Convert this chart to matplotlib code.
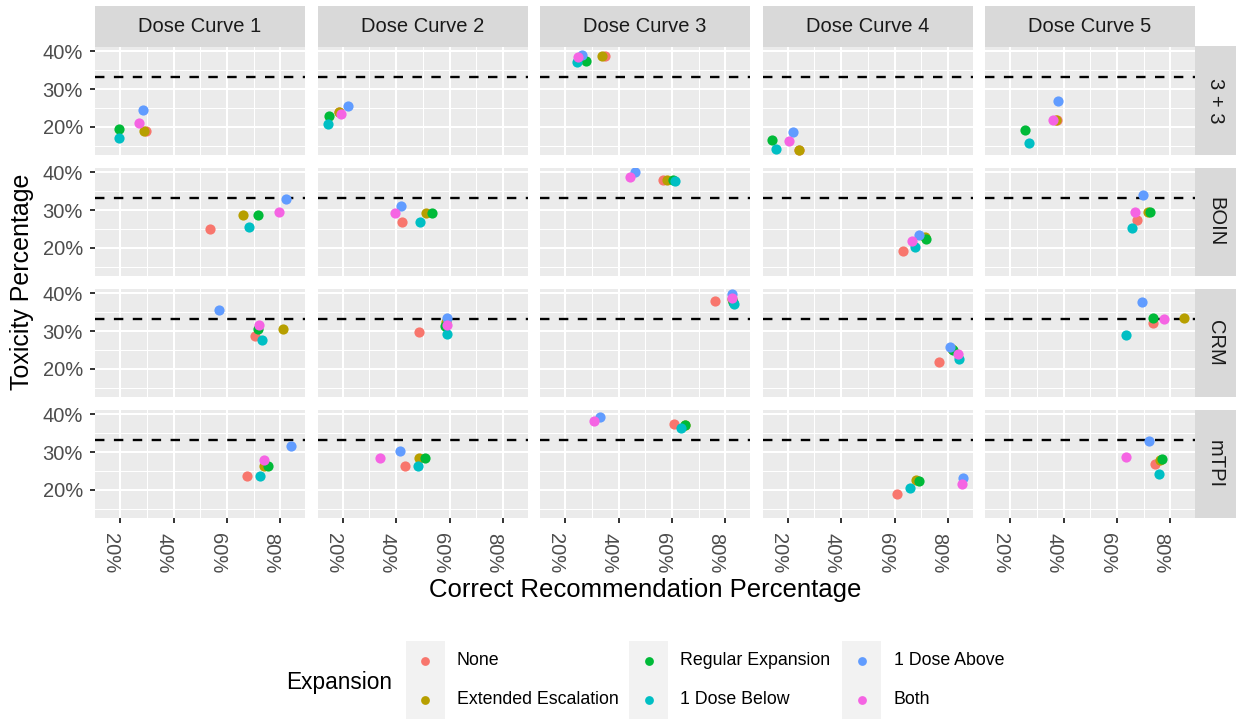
import matplotlib
matplotlib.use('Agg')
import matplotlib.pyplot as plt
from matplotlib.ticker import PercentFormatter, MultipleLocator
from matplotlib.patches import Rectangle

plt.rcParams['font.family'] = ['Liberation Sans', 'DejaVu Sans']

expansions = ['None', 'Extended Escalation', 'Regular Expansion',
              '1 Dose Below', '1 Dose Above', 'Both']
colors = ['#F8766D', '#B79F00', '#00BA38', '#00BFC4', '#619CFF', '#F564E3']
curves = ['Dose Curve 1', 'Dose Curve 2', 'Dose Curve 3', 'Dose Curve 4', 'Dose Curve 5']
designs = ['3 + 3', 'BOIN', 'CRM', 'mTPI']
target_tox = 100 / 3

# one row per dose curve, values in the order of `expansions`
correct_33 = [[29.8, 29.1, 19.6, 19.5, 28.6, 27.2],
              [18.8, 18.5, 14.9, 14.5, 22.1, 19.5],
              [34.8, 33.7, 27.9, 24.3, 26.5, 24.7],
              [24.1, 24.1, 14.2, 15.7, 22.1, 20.7],
              [37.5, 37.3, 25.5, 26.9, 38.1, 36.0]]
tox_33 = [[18.9, 18.9, 19.3, 16.9, 24.4, 20.9],
          [23.9, 23.9, 22.9, 20.7, 25.6, 23.4],
          [38.8, 38.8, 37.5, 37.1, 39.0, 38.4],
          [13.8, 13.8, 16.6, 14.2, 18.5, 16.3],
          [21.9, 21.9, 19.1, 15.8, 26.9, 21.9]]

correct_boin = [[53.8, 65.8, 71.6, 68.1, 82.2, 79.6],
                [42.1, 51.1, 53.4, 49.0, 42.0, 39.5],
                [56.8, 58.1, 60.5, 61.0, 46.2, 44.2],
                [63.2, 71.3, 71.7, 67.8, 69.1, 66.7],
                [67.4, 71.5, 72.5, 65.6, 69.7, 66.7]]
tox_boin = [[24.9, 28.6, 28.8, 25.5, 33.0, 29.4],
            [26.9, 29.1, 29.1, 26.9, 31.1, 29.1],
            [37.9, 37.9, 37.9, 37.6, 40.0, 38.9],
            [19.2, 22.9, 22.4, 20.3, 23.3, 21.7],
            [27.4, 29.6, 29.6, 25.3, 33.9, 29.6]]

correct_crm = [[70.6, 81.1, 71.6, 73.0, 56.9, 72.1],
               [48.6, 58.8, 58.3, 59.0, 59.2, 59.2],
               [76.2, 82.6, 82.9, 83.3, 82.4, 82.4],
               [76.7, 81.6, 81.8, 84.3, 80.6, 83.8],
               [73.5, 85.1, 73.5, 63.5, 69.3, 77.4]]
tox_crm = [[28.8, 30.5, 30.5, 27.5, 35.6, 31.7],
           [29.8, 32.4, 31.4, 29.2, 33.4, 31.5],
           [38.0, 38.5, 37.6, 37.2, 39.8, 38.9],
           [21.8, 25.2, 25.1, 22.7, 25.7, 24.0],
           [32.2, 33.4, 33.6, 28.9, 37.8, 33.3]]

correct_mtpi = [[67.6, 73.7, 75.3, 72.2, 83.8, 73.9],
                [43.4, 48.6, 50.7, 48.2, 41.3, 34.0],
                [60.7, 64.8, 64.9, 63.2, 32.9, 30.9],
                [61.0, 68.0, 69.0, 65.8, 85.6, 85.3],
                [74.1, 76.2, 76.8, 75.8, 71.8, 63.2]]
tox_mtpi = [[23.6, 26.3, 26.4, 23.6, 31.5, 27.8],
            [26.2, 28.4, 28.4, 26.3, 30.2, 28.3],
            [37.5, 37.1, 37.1, 36.5, 39.4, 38.3],
            [18.9, 22.6, 22.3, 20.4, 23.1, 21.5],
            [26.9, 28.0, 28.2, 24.1, 32.9, 28.6]]

correct = [correct_33, correct_boin, correct_crm, correct_mtpi]
tox = [tox_33, tox_boin, tox_crm, tox_mtpi]

# shared scales with ggplot-like 5% expansion
all_x = [v for d in correct for row in d for v in row]
all_y = [v for d in tox for row in d for v in row]
dx = (max(all_x) - min(all_x)) * 0.05
dy = (max(all_y) - min(all_y)) * 0.05
xlim = (min(all_x) - dx, max(all_x) + dx)
ylim = (min(all_y) - dy, max(all_y) + dy)

W, H = 1236, 719
fig = plt.figure(figsize=(W / 100, H / 100), dpi=100)


def rect(x0, y0, w, h):
    return [x0 / W, 1 - (y0 + h) / H, w / W, h / H]


pan_left, pan_w, col_step = 95, 210, 222.5
pan_top, pan_h, row_step = 46.5, 108.5, 121

for r, design in enumerate(designs):
    for c, curve in enumerate(curves):
        x0 = pan_left + c * col_step
        y0 = pan_top + r * row_step
        ax = fig.add_axes(rect(x0, y0, pan_w, pan_h))
        ax.set_facecolor('#EBEBEB')
        for s in ax.spines.values():
            s.set_visible(False)
        ax.set_xlim(xlim)
        ax.set_ylim(ylim)
        ax.xaxis.set_major_locator(MultipleLocator(20))
        ax.xaxis.set_minor_locator(MultipleLocator(10))
        ax.yaxis.set_major_locator(MultipleLocator(10))
        ax.yaxis.set_minor_locator(MultipleLocator(5))
        ax.xaxis.set_major_formatter(PercentFormatter(decimals=0))
        ax.yaxis.set_major_formatter(PercentFormatter(decimals=0))
        ax.grid(which='major', color='white', lw=1.5)
        ax.grid(which='minor', color='white', lw=0.75)
        ax.set_axisbelow(True)
        ax.tick_params(which='minor', length=0)
        ax.tick_params(which='major', length=3.6, width=1.4, color='#333333',
                       labelcolor='#4D4D4D', labelsize=14.5)
        ax.tick_params(axis='y', pad=5)
        ax.tick_params(axis='x', pad=7)

        ax.axhline(target_tox, color='black', lw=1.7, ls=(0, (4, 4)), zorder=2)
        for k, name in enumerate(expansions):
            ax.scatter(correct[r][c][k], tox[r][c][k], s=54, color=colors[k],
                       linewidths=0, zorder=3)

        if c != 0:
            ax.tick_params(axis='y', length=0, labelleft=False)
        if r != len(designs) - 1:
            ax.tick_params(axis='x', length=0, labelbottom=False)
        else:
            plt.setp(ax.get_xticklabels(), rotation=-90, rotation_mode='anchor',
                     ha='left', va='top')

        # facet strips
        if r == 0:
            sax = fig.add_axes(rect(x0, 5.5, pan_w, 41))
            sax.set_facecolor('#D9D9D9')
            sax.set_xticks([])
            sax.set_yticks([])
            for s in sax.spines.values():
                s.set_visible(False)
            sax.text(0.5, 0.5, curve, ha='center', va='center', fontsize=14.5,
                     color='#1A1A1A', transform=sax.transAxes)
        if c == len(curves) - 1:
            sax = fig.add_axes(rect(x0 + pan_w, y0, 41, pan_h))
            sax.set_facecolor('#D9D9D9')
            sax.set_xticks([])
            sax.set_yticks([])
            for s in sax.spines.values():
                s.set_visible(False)
            sax.text(0.5, 0.5, design, ha='center', va='center', fontsize=14.5,
                     color='#1A1A1A', rotation=-90, transform=sax.transAxes)

fig.text(645 / W, 1 - 590 / H, 'Correct Recommendation Percentage',
         ha='center', va='center', fontsize=18.5)
fig.text(22 / W, 1 - 282 / H, 'Toxicity Percentage', rotation=90,
         ha='center', va='center', fontsize=18)

# legend: title on the left, keys filled column by column
fig.text(286 / W, 1 - 682 / H, 'Expansion', ha='left', va='center', fontsize=16.3)
lax = fig.add_axes([0, 0, 1, 1])
lax.set_xlim(0, W)
lax.set_ylim(H, 0)
lax.axis('off')
key_x = [405.5, 629, 842]
key_y = [641, 680]
key = 39
for k, name in enumerate(expansions):
    kx = key_x[k // 2]
    ky = key_y[k % 2]
    lax.add_patch(Rectangle((kx, ky), key, key, facecolor='#F2F2F2', edgecolor='none'))
    lax.scatter(kx + key / 2, ky + key / 2, s=40, color=colors[k], linewidths=0)
    lax.text(kx + key + 12.5, ky + key / 2, name, ha='left', va='center',
             fontsize=12.8, color='black')

fig.savefig('out.png', dpi=100)
